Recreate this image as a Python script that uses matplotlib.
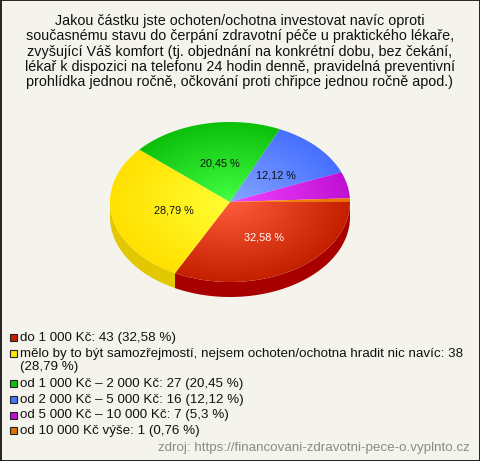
# -*- coding: utf-8 -*-
"""Survey answer shares drawn as a 3D-looking pie with a text legend."""

import matplotlib
matplotlib.use('Agg')
import matplotlib.pyplot as plt
from matplotlib.colors import to_rgb
from matplotlib.patches import Polygon, Rectangle
import numpy as np

TITLE_LINES = [
    'Jakou částku jste ochoten/ochotna investovat navíc oproti',
    'současnému stavu do čerpání zdravotní péče u praktického lékaře,',
    'zvyšující Váš komfort (tj. objednání na konkrétní dobu, bez čekání,',
    'lékař k dispozici na telefonu 24 hodin denně, pravidelná preventivní',
    'prohlídka jednou ročně, očkování proti chřipce jednou ročně apod.)',
]
labels = [
    'do 1 000 Kč',
    'mělo by to být samozřejmostí, nejsem ochoten/ochotna hradit nic navíc',
    'od 1 000 Kč – 2 000 Kč',
    'od 2 000 Kč – 5 000 Kč',
    'od 5 000 Kč – 10 000 Kč',
    'od 10 000 Kč výše',
]
counts = [43, 38, 27, 16, 7, 1]
# (centre of top face, rim of top face, side wall)
top_light = ['#ff5c3c', '#ffff33', '#44ff44', '#86a6ff', '#f244ff', '#ff9020']
top_dark = ['#c42000', '#ffe000', '#0cc00c', '#4670ff', '#c010d4', '#e87000']
side_colors = ['#a80000', '#e2c800', '#0a9a0a', '#3050c0', '#9c00ac', '#c05000']
legend_colors = ['#c42000', '#ffe600', '#10c010', '#4a70ff', '#c010d0',
                 '#e07000']
SOURCE = 'zdroj: https://financovani-zdravotni-pece-o.vyplnto.cz'

FONT = 'Liberation Sans'
BG = '#f5f4ec'
CX, CY, RX, RY, DEPTH = 230, 202, 120, 80, 15


def fmt_pct(value):
    return '{:g}'.format(round(value, 2)).replace('.', ',')


def arc(a0, a1, dy=0.0):
    t = np.radians(np.linspace(a0, a1, max(int(abs(a1 - a0)) + 2, 3)))
    return np.column_stack([CX + RX * np.cos(t), CY + dy + RY * np.sin(t)])


def gradient_image(light, dark):
    w, h = 2 * RX + 4, 2 * RY + 4
    xs = np.linspace(CX - RX - 2, CX + RX + 2, w)
    ys = np.linspace(CY - RY - 2, CY + RY + 2, h)
    gx, gy = np.meshgrid(xs, ys)
    r = np.clip(np.hypot((gx - CX) / RX, (gy - CY) / RY), 0, 1)[..., None]
    img = np.array(to_rgb(light)) * (1 - r) + np.array(to_rgb(dark)) * r
    extent = (CX - RX - 2, CX + RX + 2, CY + RY + 2, CY - RY - 2)
    return img, extent


def main():
    fig = plt.figure(figsize=(4.8, 4.61), dpi=100, facecolor=BG)
    ax = fig.add_axes([0, 0, 1, 1])
    ax.set_xlim(0, 480)
    ax.set_ylim(461, 0)
    ax.axis('off')
    ax.add_patch(Rectangle((0.5, 0.5), 479, 460, facecolor=BG,
                           edgecolor='black', linewidth=1.2, zorder=0))

    for k, line in enumerate(TITLE_LINES):
        ax.text(240, 21 + 15.3 * k, line, ha='center', va='center',
                fontsize=10.4, family=FONT, color='#111111')

    total = float(sum(counts))
    pcts = [100 * c / total for c in counts]
    bounds = np.concatenate([[0], np.cumsum(pcts) * 3.6])

    # side walls: only the front half (0..180 deg, screen y grows down)
    for i in range(len(counts)):
        a0, a1 = bounds[i], min(bounds[i + 1], 180)
        if a0 >= 180:
            continue
        top = arc(a0, a1)
        bottom = arc(a0, a1, dy=DEPTH)[::-1]
        ax.add_patch(Polygon(np.vstack([top, bottom]), closed=True,
                             facecolor=side_colors[i], edgecolor='none',
                             zorder=2))

    for i in range(len(counts)):
        pts = np.vstack([[[CX, CY]], arc(bounds[i], bounds[i + 1])])
        wedge = Polygon(pts, closed=True, facecolor='none', edgecolor='none')
        ax.add_patch(wedge)
        img, extent = gradient_image(top_light[i], top_dark[i])
        im = ax.imshow(img, extent=extent, zorder=3, interpolation='bilinear')
        im.set_clip_path(wedge)
        ax.set_aspect('auto')

        if pcts[i] >= 10:
            mid = np.radians((bounds[i] + bounds[i + 1]) / 2)
            lx = CX + 0.5 * RX * np.cos(mid) + 3
            ly = CY + 0.5 * RY * np.sin(mid) + 1
            ax.text(lx, ly, fmt_pct(pcts[i]) + ' %', ha='center',
                    va='center', fontsize=7.8, family=FONT, zorder=4,
                    color='white' if i == 0 else '#111111')

    rows = [337.5, 353.5, 383.5, 399.5, 415, 430.5]
    for i, y in enumerate(rows):
        ax.add_patch(Rectangle((9.5, y - 3.5), 7, 7,
                               facecolor=legend_colors[i],
                               edgecolor='#222222', linewidth=0.8))
        text = '{}: {}'.format(labels[i], counts[i])
        pct = '({} %)'.format(fmt_pct(pcts[i]))
        if i == 1:
            # this entry wraps onto a second line in the original
            ax.text(20, y, text, ha='left', va='center', fontsize=9.65,
                    family=FONT, color='#111111')
            ax.text(20, y + 13.5, pct, ha='left', va='center',
                    fontsize=9.65, family=FONT, color='#111111')
        else:
            ax.text(20, y, text + ' ' + pct, ha='left', va='center',
                    fontsize=9.65, family=FONT, color='#111111')

    ax.text(470, 448, SOURCE, ha='right', va='center', fontsize=9.6,
            family=FONT, color='#8a8a8a')

    fig.savefig('out.png', dpi=100, facecolor=BG)


if __name__ == '__main__':
    main()
